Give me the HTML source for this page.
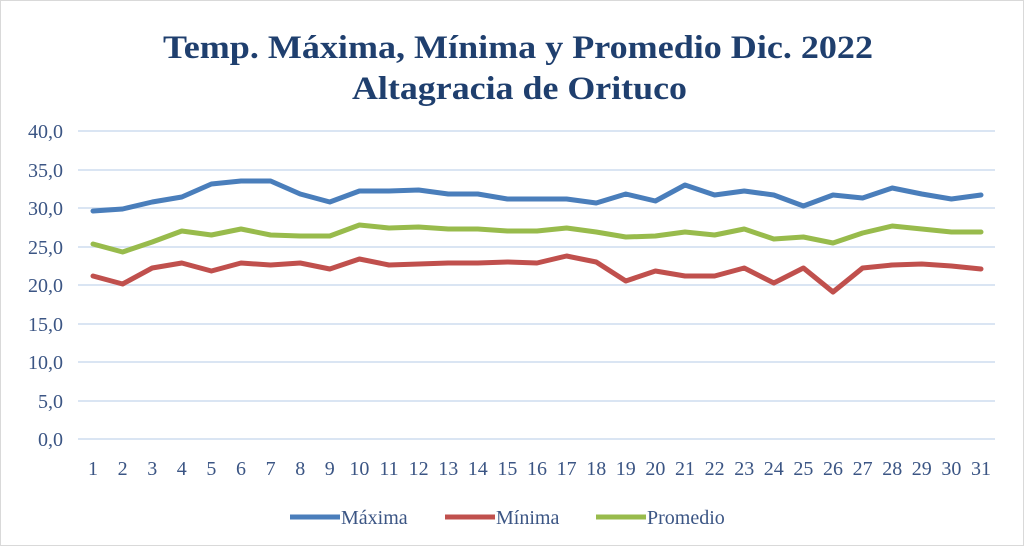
<!DOCTYPE html><html><head><style>body{margin:0;background:#fff}svg{display:block}</style></head><body>
<svg width="1024" height="546" xmlns="http://www.w3.org/2000/svg" font-family="Liberation Serif, serif">
<rect x="0.5" y="0.5" width="1023" height="545" fill="#fff" stroke="#d9d9d9"/>
<text x="163" y="58" textLength="710" lengthAdjust="spacingAndGlyphs" font-size="33" font-weight="bold" fill="#1f3f6e">Temp. Máxima, Mínima y Promedio Dic. 2022</text>
<text x="352" y="99" textLength="335" lengthAdjust="spacingAndGlyphs" font-size="33" font-weight="bold" fill="#1f3f6e">Altagracia de Orituco</text>
<g stroke="#dae5f3" stroke-width="2">
<line x1="78" x2="995" y1="131" y2="131"/><line x1="78" x2="995" y1="170" y2="170"/><line x1="78" x2="995" y1="208" y2="208"/><line x1="78" x2="995" y1="247" y2="247"/><line x1="78" x2="995" y1="285" y2="285"/><line x1="78" x2="995" y1="324" y2="324"/><line x1="78" x2="995" y1="362" y2="362"/><line x1="78" x2="995" y1="401" y2="401"/><line x1="78" x2="995" y1="439" y2="439"/>
</g>
<g font-size="20" fill="#3b5584" text-anchor="end">
<text x="63" y="138">40,0</text><text x="63" y="177">35,0</text><text x="63" y="215">30,0</text><text x="63" y="254">25,0</text><text x="63" y="292">20,0</text><text x="63" y="331">15,0</text><text x="63" y="369">10,0</text><text x="63" y="408">5,0</text><text x="63" y="446">0,0</text>
</g>
<g font-size="20" fill="#3b5584" text-anchor="middle">
<text x="93" y="475">1</text><text x="122.6" y="475">2</text><text x="152.2" y="475">3</text><text x="181.8" y="475">4</text><text x="211.4" y="475">5</text><text x="241" y="475">6</text><text x="270.6" y="475">7</text><text x="300.2" y="475">8</text><text x="329.8" y="475">9</text><text x="359.4" y="475">10</text><text x="389" y="475">11</text><text x="418.6" y="475">12</text><text x="448.2" y="475">13</text><text x="477.8" y="475">14</text><text x="507.4" y="475">15</text><text x="537" y="475">16</text><text x="566.6" y="475">17</text><text x="596.2" y="475">18</text><text x="625.8" y="475">19</text><text x="655.4" y="475">20</text><text x="685" y="475">21</text><text x="714.6" y="475">22</text><text x="744.2" y="475">23</text><text x="773.8" y="475">24</text><text x="803.4" y="475">25</text><text x="833" y="475">26</text><text x="862.6" y="475">27</text><text x="892.2" y="475">28</text><text x="921.8" y="475">29</text><text x="951.4" y="475">30</text><text x="981" y="475">31</text>
</g>
<g fill="none" stroke-width="5" stroke-linejoin="round" stroke-linecap="round">
<polyline id="b" stroke="#4a7ebb"/><polyline id="g" stroke="#98bb4c"/><polyline id="r" stroke="#c0504d"/>
</g>
<line x1="290" x2="340" y1="517" y2="517" stroke="#4a7ebb" stroke-width="5"/>
<text x="341" y="524" font-size="20" fill="#3b5584">Máxima</text>
<line x1="445" x2="495" y1="517" y2="517" stroke="#c0504d" stroke-width="5"/>
<text x="496" y="524" font-size="20" fill="#3b5584">Mínima</text>
<line x1="596" x2="646" y1="517" y2="517" stroke="#98bb4c" stroke-width="5"/>
<text x="647" y="524" font-size="20" fill="#3b5584">Promedio</text>
<script>
var B=[211,209,202,197,184,181,181,194,202,191,191,190,194,194,199,199,199,203,194,201,185,195,191,195,206,195,198,188,194,199,195];
var G=[244,252,242,231,235,229,235,236,236,225,228,227,229,229,231,231,228,232,237,236,232,235,229,239,237,243,233,226,229,232,232];
var R=[276,284,268,263,271,263,265,263,269,259,265,264,263,263,262,263,256,262,281,271,276,276,268,283,268,292,268,265,264,266,269];
function x(i){return 93+i*29.6}
function p(a){return a.map(function(v,i){return x(i).toFixed(1)+","+v}).join(" ")}
document.getElementById("b").setAttribute("points",p(B));
document.getElementById("g").setAttribute("points",p(G));
document.getElementById("r").setAttribute("points",p(R));
</script>
</svg></body></html>
